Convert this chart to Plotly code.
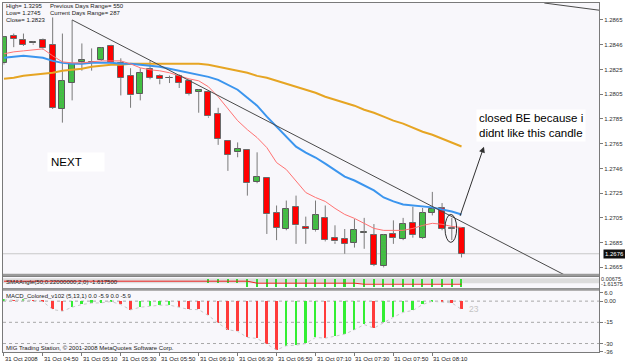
import plotly.graph_objects as go

# ---------------- data ----------------
bars = list(range(48))
opens = [1.2830, 1.2852, 1.2849, 1.2846, 1.2849, 1.2845, 1.2793, 1.2814, 1.2831, 1.2831,
         1.2833, 1.2844, 1.2830, 1.2820, 1.2805, 1.2825, 1.2820, 1.2818, 1.2820, 1.2816,
         1.2807, 1.2807, 1.2789, 1.2767, 1.2758, 1.2760, 1.2734, 1.2737, 1.2709, 1.2696,
         1.2714, 1.2698, 1.2695, 1.2705, 1.2689, 1.2688, 1.2685, 1.2693, 1.2691, 1.2666,
         1.2692, 1.2688, 1.2701, 1.2689, 1.2709, 1.2713, 1.2697, 1.2697]
highs = [1.2852, 1.2854, 1.2854, 1.2848, 1.2850, 1.2867, 1.2854, 1.2865, 1.2846, 1.2842,
         1.2843, 1.2845, 1.2834, 1.2826, 1.2826, 1.2832, 1.2821, 1.2820, 1.2821, 1.2817,
         1.2809, 1.2808, 1.2794, 1.2767, 1.2766, 1.2760, 1.2758, 1.2737, 1.2715, 1.2719,
         1.2723, 1.2706, 1.2719, 1.2715, 1.2699, 1.2696, 1.2704, 1.2705, 1.2700, 1.2692,
         1.2703, 1.2705, 1.2714, 1.2713, 1.2726, 1.2717, 1.2705, 1.2697]
lows = [1.2829, 1.2843, 1.2844, 1.2845, 1.2841, 1.2793, 1.2782, 1.2800, 1.2824, 1.2824,
        1.2832, 1.2829, 1.2804, 1.2794, 1.2800, 1.2817, 1.2813, 1.2814, 1.2810, 1.2804,
        1.2790, 1.2786, 1.2764, 1.2743, 1.2754, 1.2723, 1.2733, 1.2692, 1.2687, 1.2695,
        1.2684, 1.2684, 1.2694, 1.2686, 1.2684, 1.2676, 1.2681, 1.2680, 1.2666, 1.2665,
        1.2684, 1.2687, 1.2689, 1.2688, 1.2707, 1.2695, 1.2687, 1.2673]
closes = [1.2851, 1.2850, 1.2845, 1.2847, 1.2842, 1.2794, 1.2816, 1.2829, 1.2833, 1.2831,
          1.2842, 1.2830, 1.2818, 1.2804, 1.2822, 1.2818, 1.2817, 1.2818, 1.2814, 1.2805,
          1.2808, 1.2787, 1.2769, 1.2756, 1.2761, 1.2733, 1.2738, 1.2708, 1.2697, 1.2712,
          1.2699, 1.2696, 1.2707, 1.2687, 1.2686, 1.2684, 1.2695, 1.2693, 1.2667, 1.2691,
          1.2689, 1.2700, 1.2691, 1.2709, 1.2712, 1.2696, 1.2696, 1.2676]

ma_fast = [1.28376, 1.28392, 1.28400, 1.28408, 1.28416, 1.28360, 1.28311, 1.28303, 1.28303, 1.28311,
           1.28319, 1.28319, 1.28319, 1.28295, 1.28263, 1.28247, 1.28239, 1.28223, 1.28198, 1.28174,
           1.28158, 1.28110, 1.28029, 1.27933, 1.27836, 1.27763, 1.27699, 1.27618, 1.27497, 1.27441,
           1.27344, 1.27255, 1.27215, 1.27183, 1.27127, 1.27078, 1.27046, 1.27006, 1.26965, 1.26949,
           1.26949, 1.26949, 1.26965, 1.26989, 1.27006, 1.26998, 1.26981, 1.26973]
ma_mid = [1.28344, 1.28352, 1.28360, 1.28352, 1.28344, 1.28319, 1.28303, 1.28295, 1.28295, 1.28303,
          1.28303, 1.28303, 1.28295, 1.28295, 1.28287, 1.28279, 1.28271, 1.28255, 1.28239, 1.28223,
          1.28207, 1.28190, 1.28166, 1.28126, 1.28086, 1.28021, 1.27957, 1.27868, 1.27787, 1.27699,
          1.27626, 1.27578, 1.27538, 1.27489, 1.27433, 1.27384, 1.27352, 1.27312, 1.27272, 1.27215,
          1.27183, 1.27159, 1.27151, 1.27143, 1.27135, 1.27118, 1.27102, 1.27078]
ma_slow = [1.28174, 1.28182, 1.28198, 1.28207, 1.28215, 1.28223, 1.28239, 1.28247, 1.28255, 1.28271,
           1.28279, 1.28287, 1.28287, 1.28295, 1.28295, 1.28295, 1.28295, 1.28295, 1.28295, 1.28295,
           1.28295, 1.28287, 1.28271, 1.28255, 1.28239, 1.28223, 1.28198, 1.28182, 1.28158, 1.28134,
           1.28110, 1.28086, 1.28061, 1.28029, 1.28005, 1.27981, 1.27957, 1.27924, 1.27900, 1.27868,
           1.27836, 1.27812, 1.27779, 1.27746, 1.27722, 1.27690, 1.27658, 1.27627]

macd = [0.8, 0.5, 0.7, 0.6, -0.4, -5.9, -7.1, -4.3, -2.4, -1.4,
        -1.2, -0.3, -2.4, -6.2, -4.3, -3.6, -2.9, -2.8, -4.3, -5.9,
        -6.0, -10.2, -15.5, -20.2, -21.4, -25.7, -26.4, -30.5, -34.5, -31.6,
        -31.2, -30.0, -25.7, -26.2, -25.0, -23.4, -20.2, -16.6, -19.1, -15.0,
        -11.4, -7.9, -6.6, -2.4, -0.1, -0.7, -1.2, -5.9]
macd_dir = ["g", "r", "g", "r", "r", "r", "r", "g", "g", "g",
            "g", "g", "r", "r", "g", "g", "g", "g", "r", "r",
            "r", "r", "r", "r", "r", "r", "r", "r", "r", "g",
            "g", "g", "g", "r", "g", "g", "g", "g", "r", "g",
            "g", "g", "g", "g", "g", "r", "r", "r"]
macd_levels = [0, -15, -30]

sma_angle = [-0.64] * 26 + [-1.29] * 11 + [-1.6175] * 11
sma_hist = [0] * 21 + [-1.3] * 4 + [-2.6] * 23

time_idx = [0, 4, 8, 12, 16, 20, 24, 28, 32, 36, 40, 44]
time_text = ["31 Oct 2008", "31 Oct 04:50", "31 Oct 05:10", "31 Oct 05:30", "31 Oct 05:50",
             "31 Oct 06:10", "31 Oct 06:30", "31 Oct 06:50", "31 Oct 07:10", "31 Oct 07:30",
             "31 Oct 07:50", "31 Oct 08:10"]
price_ticks = [1.2865, 1.2845, 1.2825, 1.2805, 1.2785, 1.2765, 1.2745, 1.2725, 1.2705, 1.2685, 1.2665]
price_text = ["1.2865", "1.2846", "1.2825", "1.2805", "1.2785", "1.2765", "1.2746", "1.2725",
              "1.2705", "1.2685", "1.2665"]
macd_ticks = [6.0, 0, -15, -30, -36]
macd_text = ["6.0", "0.00", "-15", "-30", "-36"]
sma_ticks = [0.00675, -1.61575]
sma_text = ["0.00675", "-1.61575"]

trend1_x, trend1_y = [7, 57.65], [1.2865, 1.26586]
trend2_x, trend2_y = [55.5, 61.3], [1.28787, 1.28727]
ellipse_x, ellipse_y = [45.3, 46.5], [1.26852, 1.27078]
arrow_from = (46.8, 1.27054)
arrow_to = (49.3, 1.27626)

# ---------------- geometry ----------------
W, H = 625, 363
ML, MR, MT, MB = 2, 23, 2, 11
PW, PH = W - ML - MR, H - MT - MB

def px(p):
    return (p - ML) / PW

def py(p):
    return (H - MB - p) / PH

FONT = "Liberation Sans, Arial, sans-serif"
fig = go.Figure()

# ---------------- candles ----------------
wx, wy = [], []
for i in bars:
    top, bot = max(opens[i], closes[i]), min(opens[i], closes[i])
    wx += [i, i, None, i, i, None]
    wy += [highs[i], top, None, bot, lows[i], None]
fig.add_trace(go.Scatter(x=wx, y=wy, mode="lines", line=dict(color="#7a7a7a", width=1),
                         hoverinfo="skip", showlegend=False))

minh = 0.00004
bull = [i for i in bars if closes[i] >= opens[i]]
bear = [i for i in bars if closes[i] < opens[i]]
fig.add_trace(go.Bar(x=bull, base=[opens[i] for i in bull],
                     y=[max(closes[i] - opens[i], minh) for i in bull], width=0.62,
                     marker=dict(color="#3cc43c", line=dict(color="#5a5a5a", width=1),
                                 pattern=dict(shape=".", fgcolor="#6f8f6f", size=3, solidity=0.35,
                                              fillmode="overlay")),
                     showlegend=False))
fig.add_trace(go.Bar(x=bear, base=[closes[i] for i in bear],
                     y=[opens[i] - closes[i] for i in bear], width=0.62,
                     marker=dict(color="#ff0000", line=dict(color="#6a6a6a", width=1)),
                     showlegend=False))

# moving averages
fig.add_trace(go.Scatter(x=bars, y=ma_slow, mode="lines", line=dict(color="#e6a523", width=2),
                         showlegend=False))
fig.add_trace(go.Scatter(x=bars, y=ma_mid, mode="lines", line=dict(color="#3b95ee", width=2),
                         showlegend=False))
fig.add_trace(go.Scatter(x=bars, y=ma_fast, mode="lines", line=dict(color="#ff7272", width=1),
                         showlegend=False))
# trend lines
fig.add_trace(go.Scatter(x=trend1_x, y=trend1_y, mode="lines", line=dict(color="#4a4a4a", width=1),
                         showlegend=False))
fig.add_trace(go.Scatter(x=trend2_x, y=trend2_y, mode="lines", line=dict(color="#4a4a4a", width=1),
                         showlegend=False))

# ---------------- SMAAngle panel ----------------
fig.add_trace(go.Bar(x=bars, y=sma_hist, width=0.16, marker=dict(color="#33dd33", line_width=0),
                     xaxis="x2", yaxis="y2", showlegend=False))
fig.add_trace(go.Scatter(x=bars, y=sma_angle, mode="lines", line=dict(color="#ee2222", width=1),
                         xaxis="x2", yaxis="y2", showlegend=False))

# ---------------- MACD panel ----------------
mcol = ["#33ee33" if d == "g" else "#ff3b3b" for d in macd_dir]
fig.add_trace(go.Bar(x=bars, y=macd, width=0.2, marker=dict(color=mcol, line_width=0),
                     xaxis="x3", yaxis="y3", showlegend=False))
fig.add_trace(go.Scatter(x=bars, y=macd, mode="lines", line=dict(color="#c8c8c8", width=1, dash="dot"),
                         xaxis="x3", yaxis="y3", showlegend=False))

# ---------------- layout ----------------
xr = [-0.102, 61.12]
ax_common = dict(showline=True, mirror=True, linecolor="#7a7a7a", linewidth=1, showgrid=False,
                 zeroline=False, range=xr, fixedrange=True)
yfont = dict(family=FONT, size=6, color="#303030")
d_main = [py(275), 1.0]
d_sma = [py(288), py(277)]
d_macd = [0.0, py(290)]

fig.update_layout(
    width=W, height=H, margin=dict(l=ML, r=MR, t=MT, b=MB, pad=0),
    paper_bgcolor="white", plot_bgcolor="#f8f7fb", barmode="overlay", bargap=0,
    showlegend=False,
    xaxis=dict(**ax_common, anchor="y", showticklabels=False, ticks=""),
    xaxis2=dict(**ax_common, anchor="y2", matches="x", showticklabels=False, ticks=""),
    xaxis3=dict(**ax_common, anchor="y3", matches="x", showticklabels=False, ticks="outside",
                ticklen=3, tickcolor="#7a7a7a", tickvals=time_idx),
    yaxis=dict(domain=d_main, range=[1.265865, 1.28787], side="right", showline=True, mirror=True,
               linecolor="#7a7a7a", showgrid=False, zeroline=False, ticks="outside", ticklen=3,
               tickcolor="#7a7a7a", tickvals=price_ticks, ticktext=price_text, tickfont=yfont,
               fixedrange=True),
    yaxis2=dict(domain=d_sma, range=[-2.914, 0.656], side="right", showline=True, mirror=True,
                linecolor="#7a7a7a", showgrid=False, zeroline=False, ticks="", tickvals=sma_ticks,
                ticktext=sma_text, tickfont=dict(family=FONT, size=5.5, color="#303030"),
                fixedrange=True),
    yaxis3=dict(domain=d_macd, range=[-36, 7.76], side="right", showline=True, mirror=True,
                linecolor="#7a7a7a", showgrid=False, zeroline=False, ticks="outside", ticklen=3,
                tickcolor="#7a7a7a", tickvals=macd_ticks, ticktext=macd_text, tickfont=yfont,
                fixedrange=True),
)

shapes = []
# bid line
shapes.append(dict(type="line", xref="x domain", yref="y", x0=0, x1=1, y0=closes[-1], y1=closes[-1],
                   line=dict(color="#c8c8c8", width=1), layer="below"))
# macd levels
for lv in macd_levels:
    shapes.append(dict(type="line", xref="x3 domain", yref="y3", x0=0, x1=1, y0=lv, y1=lv,
                       line=dict(color="#a8a8a8", width=1, dash="dot"), layer="below"))
# sma panel band
shapes.append(dict(type="rect", xref="x2 domain", yref="y2 domain", x0=0, x1=1, y0=0.45, y1=0.9,
                   fillcolor="#dcdcdc", line_width=0, layer="below"))
# panel separators
for y0, y1 in [(273.5, 276), (288, 290.5)]:
    shapes.append(dict(type="rect", xref="paper", yref="paper", x0=0, x1=1, y0=py(y1), y1=py(y0),
                       fillcolor="#9a9a9a", line_width=0, layer="above"))
# ellipse
shapes.append(dict(type="circle", xref="x", yref="y", x0=ellipse_x[0], x1=ellipse_x[1],
                   y0=ellipse_y[0], y1=ellipse_y[1], line=dict(color="#303030", width=1)))
fig.update_layout(shapes=shapes)

ann = []
small = dict(family=FONT, size=6, color="#202020")
for (x, y, t) in [(3, 5, "High= 1.3295"), (3, 12, "Low= 1.2745"), (3, 19, "Close= 1.2823"),
                  (47, 5, "Previous Days Range= 550"), (47, 12, "Current Days Range= 287"),
                  (3, 282, "SMAAngle(50,0.22000000,2,0) -1.617500"),
                  (3, 296, "MACD_Colored_v102 (5,13,1) 0.0 -5.9 0.0 -5.9"),
                  (3, 348, "MIG Trading Station, \u00a9 2001-2008 MetaQuotes Software Corp.")]:
    ann.append(dict(xref="paper", yref="paper", x=px(x), y=py(y), text=t, showarrow=False,
                    xanchor="left", yanchor="middle", font=small))
for i, t in zip(time_idx, time_text):
    ann.append(dict(xref="x3", yref="paper", x=i - 0.1, y=py(359), text=t, showarrow=False,
                    xanchor="left", yanchor="middle", font=small))
# current price label
ann.append(dict(xref="paper", yref="y", x=1.0, xshift=4, y=closes[-1], text=f"{closes[-1]:.4f}",
                showarrow=False, xanchor="left", yanchor="middle", bgcolor="#101010", borderpad=1,
                font=dict(family=FONT, size=6, color="white")))
# countdown
ann.append(dict(xref="paper", yref="paper", x=px(469), y=py(309), text="23", showarrow=False,
                xanchor="left", yanchor="middle", font=dict(family=FONT, size=8.5, color="#c4c4c4")))
# user texts
ann.append(dict(xref="x", yref="y", x=(478 - 3) / 9.8, y=1.27933,
                text="closed BE because i<br>didnt like this candle", showarrow=False,
                xanchor="left", yanchor="top", align="left", bgcolor="white", borderpad=2,
                font=dict(family=FONT, size=11.5, color="black")))
ann.append(dict(xref="x", yref="y", x=(46 - 3) / 9.8, y=1.27501, text="NEXT" + "&nbsp;" * 6,
                showarrow=False, xanchor="left", yanchor="middle", bgcolor="white", borderpad=3,
                font=dict(family=FONT, size=11.5, color="black")))
# arrow
ann.append(dict(xref="x", yref="y", axref="x", ayref="y", x=arrow_to[0], y=arrow_to[1],
                ax=arrow_from[0], ay=arrow_from[1], text="", showarrow=True, arrowhead=2,
                arrowsize=1.2, arrowwidth=1, arrowcolor="#303030"))
fig.update_layout(annotations=ann)

fig.write_html("out.html")
